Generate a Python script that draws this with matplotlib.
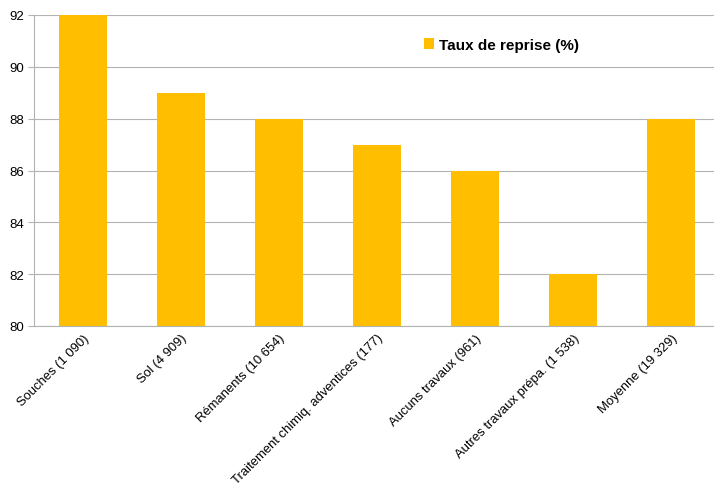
import matplotlib.pyplot as plt

plt.rcParams['font.family'] = ['Liberation Sans', 'DejaVu Sans']

categories = ['Souches (1 090)', 'Sol (4 909)', 'Rémanents (10 654)',
              'Traitement chimiq. adventices (177)', 'Aucuns travaux (961)',
              'Autres travaux prépa. (1 538)', 'Moyenne (19 329)']
taux = [92, 89, 88, 87, 86, 82, 88]
yticks = [80, 82, 84, 86, 88, 90, 92]

fig = plt.figure(figsize=(7.14, 4.89), dpi=100)
ax = fig.add_axes([34 / 714, 1 - 327 / 489, 1 - 34 / 714, (327 - 16) / 489])

x = range(len(categories))
ax.bar(x, taux, width=0.49, color='#ffbf00', label='Taux de reprise (%)', zorder=2)

ax.set_ylim(80, 92)
ax.set_xlim(-0.5, 6.44)
ax.set_yticks(yticks)
ax.yaxis.grid(True, color='#b3b3b3', linewidth=0.8, zorder=0)
ax.set_xticks(list(x))
ax.set_xticklabels(categories, rotation=45, ha='right', rotation_mode='anchor',
                   fontsize=9.4, fontweight='medium')
ax.tick_params(axis='x', length=0, pad=4)
ax.tick_params(axis='y', length=4, color='#b3b3b3', labelsize=9.5, pad=3)

for side in ['top', 'right']:
    ax.spines[side].set_visible(False)
ax.spines['left'].set_color('#b3b3b3')
ax.spines['bottom'].set_color('#b3b3b3')

leg = ax.legend(loc='upper left', bbox_to_anchor=(0.553, 0.97), frameon=False,
                handlelength=0.7, handleheight=0.7, handletextpad=0.3,
                prop={'weight': 'bold', 'size': 11})

fig.savefig('out.png', dpi=100)
